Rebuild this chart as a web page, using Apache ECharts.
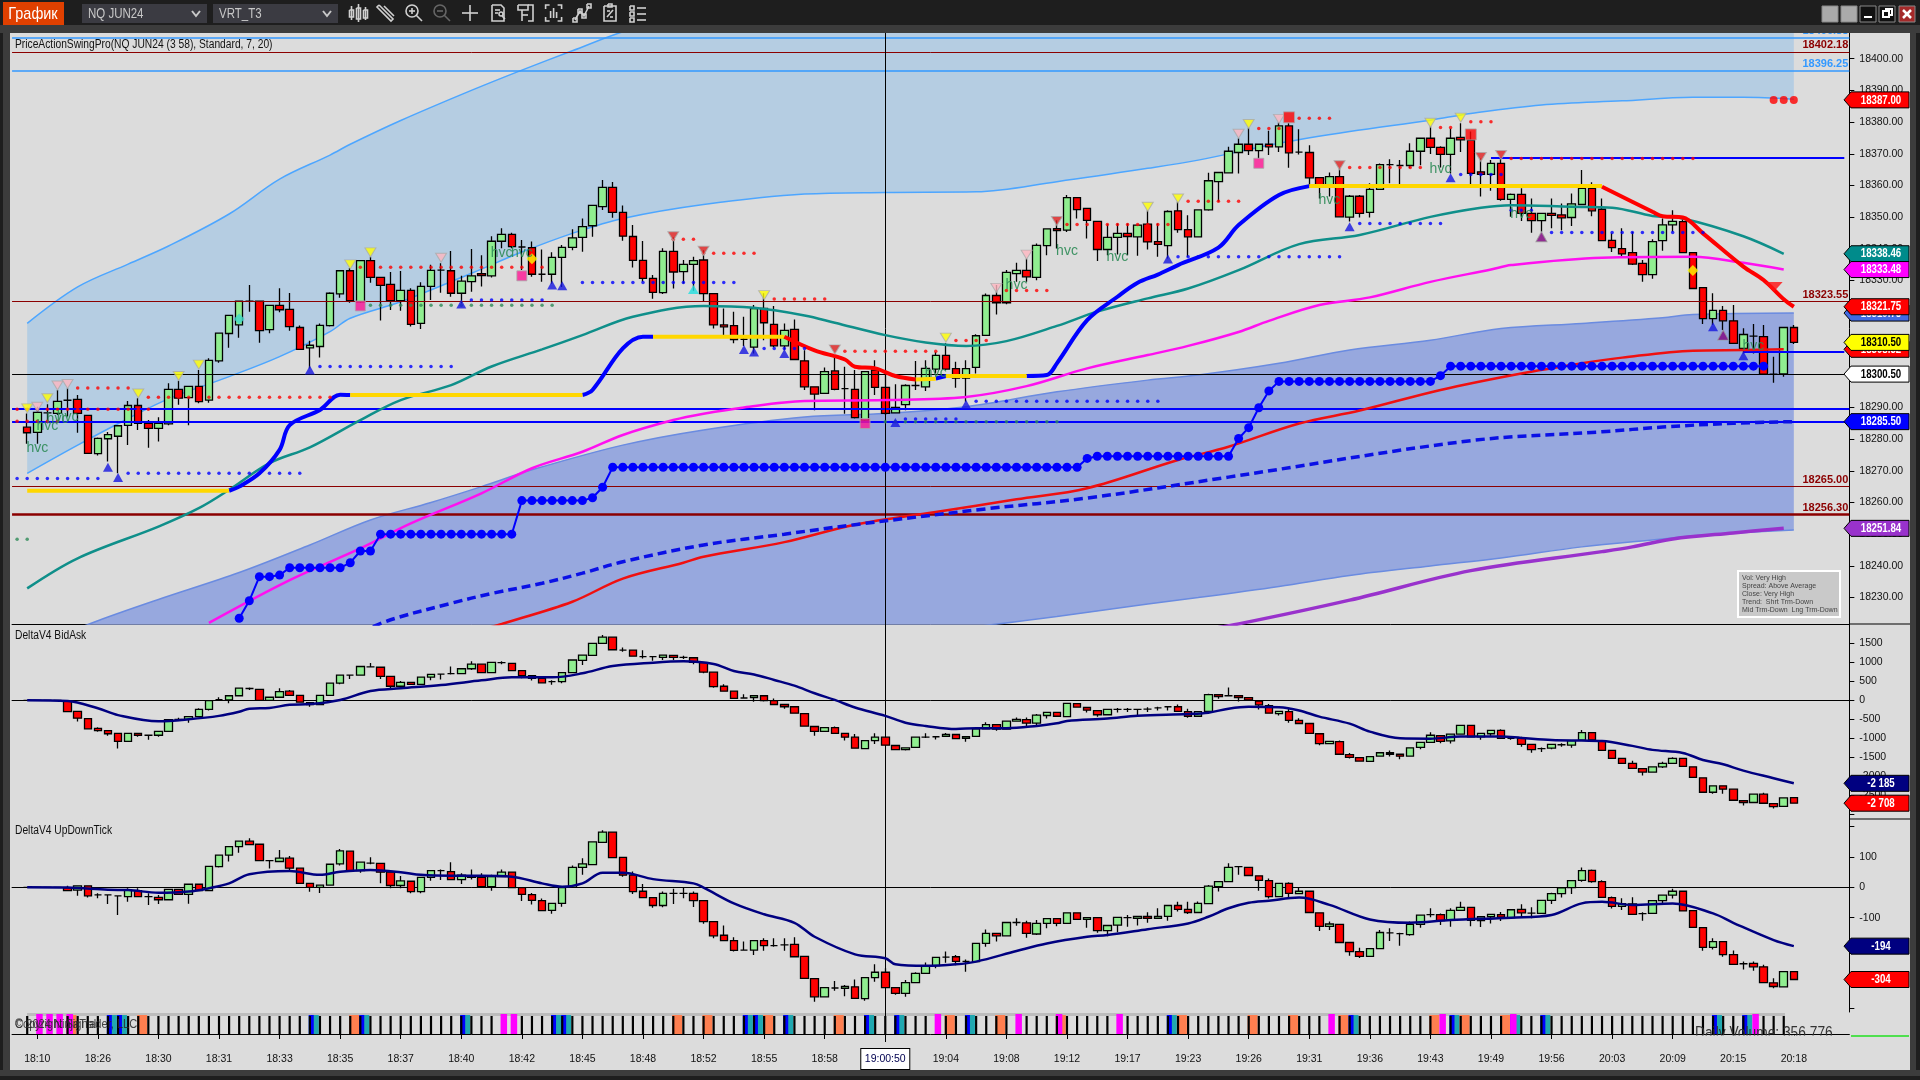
<!DOCTYPE html>
<html><head><meta charset="utf-8"><title>NQ JUN24</title>
<style>html,body{margin:0;padding:0;background:#1e1e1e}#c{width:1920px;height:1080px}</style>
<script src="https://cdn.jsdelivr.net/npm/echarts@6/dist/echarts.min.js"></script></head><body><div id="c"></div>
<script>
// rows: open, close, high, low
const priceBars=[[18283.75,18282,18288.1,18278.5],[18282.1,18288.4,18290.2,18278.5],[18288.25,18288.25,18291,18285],[18288.1,18291.9,18295.5,18287.6],[18292.25,18292.25,18296,18287.1],[18292.5,18288.1,18293.9,18282],[18287.5,18275.5,18287.5,18275.5],[18275.4,18280.2,18280.5,18274.8],[18280.1,18281.4,18282.2,18272.9],[18280.9,18284.2,18284.4,18269.2],
[18284.3,18290.6,18292,18278.1],[18290.6,18285,18292.9,18282.9],[18285,18283.4,18286,18277.3],[18283.4,18285,18286.9,18279.2],[18284.8,18295.7,18297.6,18284.4],[18295.7,18292.9,18298.4,18290.8],[18293.1,18296.6,18296.6,18284.4],[18296.6,18291.8,18301.8,18291.3],[18292.3,18304.8,18305.5,18291.5],[18304.7,18313.4,18313.4,18304.1],
[18313.3,18319,18319,18308.8],[18316,18323.5,18323.5,18312],[18323.5,18323.5,18328.6,18320.2],[18323.5,18314.2,18323.5,18310.4],[18314.5,18322.2,18322.2,18313.4],[18322.2,18320.8,18327.6,18320],[18320.9,18315.5,18326.1,18314.2],[18315.2,18308.3,18315.8,18308.3],[18308.8,18309.6,18311,18302.3],[18309.2,18315.9,18316.5,18305.7],
[18315.8,18326,18326.3,18315.5],[18325.8,18333.1,18333.1,18324.6],[18333.1,18323.7,18334,18323],[18323.3,18336.3,18336.3,18323],[18336.3,18331,18337.5,18329.3],[18331,18328.5,18331.1,18317.4],[18328.8,18323.7,18332.7,18320.7],[18323.7,18326.9,18333,18320.5],[18326.9,18316.2,18327.6,18315.5],[18316.5,18328.2,18329.5,18314.7],
[18328.2,18333.2,18335,18323.9],[18333.3,18333.3,18335.5,18326.2],[18333.1,18326,18339.3,18324.9],[18326,18329.8,18331.5,18322.8],[18329.7,18331.5,18340,18326.5],[18332.2,18331.6,18338,18328.1],[18331.5,18342.4,18344,18331],[18342.4,18344.6,18346.5,18340.2],[18344.6,18340.7,18345.1,18340.2],[18340.6,18340.6,18342.8,18333.3],
[18340.4,18332,18342.3,18331.2],[18332,18332,18339.8,18329.6],[18332,18337.3,18338.9,18329],[18337.3,18340.5,18341.2,18328],[18340.5,18343.5,18346.2,18339.6],[18343.6,18347,18349.6,18339.1],[18347.3,18353.7,18353.7,18343.8],[18353.3,18359.4,18361.7,18352.3],[18359.4,18351.5,18361.1,18349.8],[18351.5,18344,18353.7,18342.6],
[18343.9,18336.4,18347.5,18334.1],[18336.4,18330.7,18342.5,18329.6],[18330.7,18326.3,18331.8,18324.3],[18326.2,18339.2,18340.2,18325.8],[18339.2,18332.7,18343.6,18327.5],[18332.8,18335.1,18336.5,18329.1],[18335.1,18336.3,18337.5,18326.8],[18336.5,18325.9,18339.6,18323.3],[18325.9,18316,18326,18314.9],[18316,18315.4,18321.2,18312.8],
[18315.8,18311.4,18320.2,18310.2],[18311.5,18311.5,18318.6,18309.4],[18309,18321.2,18322.3,18307],[18321.2,18316.7,18326,18311.2],[18316.2,18309.4,18322,18309],[18309.4,18314.3,18316.5,18308],[18314.6,18305.1,18317.7,18304.9],[18304.7,18296.5,18308,18295.5],[18296.5,18294.2,18296.5,18289.1],[18294.4,18301.3,18302.6,18294.2],
[18301.5,18295.7,18306,18295.4],[18295.9,18295.9,18302.8,18288],[18295.7,18286.8,18301.8,18286.5],[18286,18301.3,18301.3,18285.5],[18301.8,18296.3,18304.9,18293.9],[18296.3,18288.1,18301.8,18287.6],[18288.3,18290,18297.3,18288.1],[18290.9,18296.9,18297.3,18289.1],[18296.9,18296.9,18304.6,18295.5],[18296.5,18302.3,18304.9,18295.2],
[18302.1,18306.4,18307.5,18300.7],[18306.4,18302.1,18310.2,18301.8],[18302.2,18299.2,18304.4,18296.2],[18299.2,18302.2,18304.9,18291.8],[18302.6,18312.6,18313.1,18300.7],[18312.7,18325.3,18325.9,18312.5],[18325.3,18323,18328.6,18319.3],[18323,18332.6,18333.3,18322.5],[18332.2,18333.2,18335.6,18329.6],[18333.2,18331.2,18337,18329.6],
[18331,18341.1,18341.7,18330.1],[18341,18346.3,18346.4,18338],[18346.4,18345.8,18349,18340.1],[18345.9,18356.2,18357,18345.3],[18356.2,18352.4,18356.2,18349.6],[18352.8,18349,18352.8,18343.3],[18348.7,18339.8,18348.7,18336.2],[18339.8,18343.6,18347.8,18338],[18343.6,18344.9,18348,18338.2],[18344.9,18343.9,18348,18338],
[18343.8,18347.5,18347.5,18337.8],[18347.8,18342.2,18352.2,18339.8],[18342.3,18341.4,18348,18337.5],[18341,18351.8,18352.2,18337],[18352,18346.1,18354.9,18345.1],[18346.1,18343.8,18350.6,18337.5],[18343.8,18352.3,18352.4,18343.6],[18352.3,18361.5,18364,18352],[18361.2,18364.1,18364.1,18354.9],[18364,18370.8,18372.2,18363.8],
[18370.4,18373,18374.9,18363.8],[18373,18371,18378.2,18369.6],[18371,18373,18373,18368.5],[18373,18372.2,18377.3,18369.6],[18372.2,18378.8,18379.9,18370.6],[18378.8,18370.3,18379.6,18365.6],[18370.5,18370.5,18377.7,18369.8],[18370.4,18362.4,18372.7,18359.9],[18362.5,18360.2,18362.5,18355.9],[18360.2,18362.8,18364.1,18356.5],
[18362.8,18350.1,18365.4,18349.9],[18350,18356.6,18357,18348.6],[18356.6,18351.2,18357,18349.9],[18351.5,18358.8,18360.7,18349.9],[18358.8,18366.6,18366.9,18358.6],[18366.6,18366.6,18368.3,18360.7],[18366.3,18366.3,18368,18360.1],[18366.3,18370.8,18373.3,18365.4],[18370.8,18374.9,18374.9,18366.4],[18374.9,18372,18378.7,18369.9],
[18372,18369.8,18372.4,18365.7],[18369.8,18374.9,18378,18363.8],[18375.2,18374.4,18379.6,18370.6],[18374.3,18363.8,18377,18360.1],[18364.3,18363.5,18368.5,18356.5],[18363.5,18367,18368,18358.3],[18367,18355.6,18369,18355.2],[18355.6,18357.2,18357.5,18350.1],[18357.2,18351.2,18359.1,18348.8],[18351.2,18348.9,18355.9,18345.1],
[18348.9,18351.2,18351.2,18345.4],[18351.2,18350.6,18355.9,18346.5],[18350.7,18349.8,18354.3,18345.9],[18349.9,18354.2,18357.5,18347.2],[18354,18359.1,18364.9,18353.8],[18359.1,18352,18361,18350.3],[18352.5,18342.6,18355.9,18342.4],[18342.7,18340.4,18344.9,18339],[18340.1,18338.4,18346.5,18337.5],[18338.8,18335.2,18345.4,18334.9],
[18335.4,18331.9,18336.5,18329.6],[18331.9,18342.3,18343,18330.6],[18342.6,18347.6,18349.6,18339.4],[18347.6,18348.7,18352.2,18345.4],[18348.6,18338.8,18349.6,18338.6],[18338.8,18327.5,18338.8,18327.5],[18327.8,18318,18327.8,18316.3],[18318,18320.6,18326,18316],[18320.6,18317.3,18322,18314.4],[18317.3,18310.2,18322.3,18310],
[18308.6,18313,18315,18307],[18312.5,18312.5,18316.3,18307],[18312.3,18300.5,18316,18300.5],[18300.5,18300.5,18306,18297.8],[18300.6,18315.2,18315.2,18299.7],[18315.2,18310.5,18316,18310]];
const bidAskBars=[[0,0],[0,0],[0,0],[0,0],[-20,-300,0],[-290,-470,null,-560],[-480,-750],[-740,-800,-710,-830],[-800,-880,null,-930],[-870,-1080,null,-1270],
[-1080,-870],[-870,-920,null,-960],[-920,-920,null,-1040],[-920,-820,null,-960],[-820,-510],[-500,-500,-460,-530],[-500,-430,null,-590],[-430,-240,-210],[-240,-10,null,-270],[20,20,80,-20],
[10,120,null,-80],[120,320],[310,310,340,270],[290,0],[0,80],[80,230,320],[240,130,270],[130,-50],[-60,-110,null,-170],[-110,130],
[130,450],[450,660,null,420],[660,660,660,560],[660,890],[880,880,980,860],[870,630,null,560],[630,370,null,320],[370,470,510],[470,420],[420,610],
[610,680,null,530],[690,690,690,550],[700,700,890,680],[700,830],[830,950,1030,800],[950,730],[730,1000],[990,990,1030,950],[970,780],[780,650,null,580],
[650,580,null,520],[580,460],[490,490,530,410],[490,730,null,450],[730,1060],[1050,1190,null,930],[1180,1500],[1500,1660,1720],[1660,1330],[1320,1320,1390,1280],
[1320,1160],[1150,1150,1320,1100],[1150,1150,1150,1040],[1130,1190,null,1060],[1180,1130,null,1060],[1130,1130,1170,1090],[1120,1000,null,950],[990,740,null,710],[740,360,null,330],[370,240,420],
[240,50],[60,60,160,40],[70,120,null,-40],[120,-10,null,-30],[-10,-110,50],[-110,-170,null,-220],[-170,-340,-150],[-350,-680],[-690,-820,null,-930],[-820,-720],
[-720,-870,-690],[-870,-970,null,-1060],[-970,-1260,-890],[-1270,-1060,null,-1290],[-1060,-970,-870,-1150],[-970,-1180,-950],[-1190,-1300],[-1300,-1250,null,-1320],[-1240,-970],[-970,-970,-870,-990],
[-960,-960,-960,-1030],[-950,-900,-860],[-900,-1010],[-1000,-960,null,-1090],[-950,-750],[-750,-640,-580],[-640,-760,null,-800],[-760,-550],[-550,-500,-450],[-510,-600,-450,-680],
[-600,-390,-360,-650],[-400,-320,null,-480],[-320,-420],[-430,-80],[-90,-180],[-190,-260,null,-320],[-270,-380,null,-430],[-380,-240],[-240,-240,-200,-320],[-240,-240,-200,-310],
[-240,-240,-240,-390],[-230,-230,-180,-310],[-200,-200,-170,-270],[-170,-170,-170,-270],[-170,-290,-110],[-300,-420,-220,-460],[-420,-300],[-290,150,170],[150,100,null,40],[120,120,340,100],
[120,70,null,-30],[70,10],[-20,-120,null,-240],[-140,-340,-100],[-350,-290,null,-400],[-300,-530,-210,-590],[-530,-610,-470],[-610,-870],[-880,-1140,null,-1180],[-1140,-1080],
[-1090,-1420,-1060],[-1430,-1500,-1390,-1530],[-1510,-1600],[-1610,-1480],[-1470,-1380],[-1380,-1420,-1320,-1480],[-1420,-1470,null,-1550],[-1470,-1250],[-1240,-1110,null,-1290],[-1110,-920,-840],
[-930,-1080,null,-1130],[-1070,-890,null,-1140],[-890,-660],[-660,-960],[-960,-870,null,-1040],[-880,-790,null,-940],[-790,-1000,-760],[-1000,-1000,-1000,-1040],[-1000,-1160,-960,-1220],[-1160,-1300,null,-1380],
[-1270,-1270,-1240,-1360],[-1260,-1160,null,-1290],[-1170,-1170,-1130,-1220],[-1180,-1060,null,-1250],[-1050,-850,-780],[-850,-1040],[-1060,-1320],[-1320,-1530],[-1530,-1660],[-1660,-1790,-1590],
[-1800,-1890,null,-1980],[-1890,-1750],[-1750,-1660,-1620,-1780],[-1660,-1530,-1500],[-1530,-1740],[-1750,-2030],[-2040,-2420],[-2420,-2250,null,-2460],[-2250,-2340,null,-2460],[-2340,-2630,-2320],
[-2640,-2690,null,-2770],[-2690,-2470],[-2470,-2710,-2430],[-2720,-2800,null,-2850],[-2790,-2570],[-2560,-2708]];
const upDownBars=[[0,0],[0,0],[0,0],[0,0],[-2,-11,5,-11],[-9,5,5,-28],[5,-28,null,-34],[-25,-25,-20,-36],[-25,-25,-25,-55],[-28,-28,-28,-91],
[-31,-9,-3,-48],[-11,-31,-3],[-31,-31,-20,-58],[-33,-41,-25,-55],[-41,-7,null,-43],[-7,-23,null,-25],[-23,10,null,-54],[10,-11],[-11,69],[68,106,null,65],
[106,134,136,85],[134,152,154,114],[152,141,162],[142,88],[88,88,88,62],[85,96,123,83],[96,63,103,57],[63,13],[13,0,null,-15],[0,7,null,-19],
[7,76],[77,120,126,72],[119,55],[55,83,null,48],[80,80,99,76],[79,50,null,13],[50,6,null,-3],[6,21,37,-3],[20,-14,null,-20],[-14,33,null,-20],
[33,55,null,22],[55,55,59,24],[52,25,83,24],[25,40,46,11],[38,33,59,26],[33,2,46],[2,35,41,-11],[35,50,59,33],[50,-1],[-1,-23,null,-45],
[-24,-43,-19,-57],[-44,-77,-37,-79],[-76,-53,null,-87],[-53,-1,null,-64],[0,66,72],[66,77,96,41],[75,150],[148,182,188],[182,98],[99,40,null,35],
[40,-14,52,-22],[-13,-34,11],[-34,-60,null,-67],[-60,-20,-14,-66],[-20,-20,-5,-55],[-20,-20,-1,-36],[-20,-44,-14,-65],[-44,-113,null,-120],[-113,-160,null,-168],[-158,-176,-126],
[-176,-208,-165,-212],[-207,-207,-179,-209],[-207,-176,null,-223],[-176,-192,-168,-209],[-192,-192,-168,-196],[-190,-190,-168,-209],[-188,-229,-165],[-228,-300],[-301,-361,null,-377],[-361,-331],
[-332,-332,-309,-341],[-333,-327,-322,-359],[-328,-366,-304],[-367,-298,null,-374],[-298,-280,-254,-311],[-280,-331,-267],[-331,-350,null,-354],[-350,-314,-306,-361],[-314,-284,-280],[-284,-258,-248],
[-258,-231,null,-267],[-230,-230,-212,-249],[-229,-244,-223,-257],[-244,-244,-238,-278],[-245,-185],[-185,-152,-139,-196],[-152,-160,null,-179],[-160,-116],[-116,-116,-102,-127],[-117,-152,-110,-166],
[-154,-119,-108,-157],[-119,-103,null,-135],[-103,-119,null,-128],[-119,-84],[-84,-106],[-106,-100,null,-133],[-100,-143,null,-150],[-143,-126,null,-161],[-125,-99,null,-148],[-100,-100,-91,-130],
[-102,-96,null,-126],[-96,-102,-82,-117],[-102,-96,-69],[-96,-60,null,-110],[-60,-73,-48,-80],[-73,-83,-48,-88],[-83,-53,-47],[-54,4,8,-56],[2,19,null,-14],[19,66,79],
[68,68,70,41],[66,39],[38,23,null,-11],[22,-31,29,-37],[-31,13],[13,-20,17,-36],[-21,-13,-2],[-13,-83],[-84,-129,null,-144],[-129,-121,-113,-141],
[-122,-182],[-182,-212,null,-226],[-212,-228,-199,-233],[-228,-202],[-202,-149,-141],[-150,-150,-135,-177],[-153,-153,-150,-193],[-156,-122,-113,-160],[-122,-92,null,-133],[-90,-90,-69,-99],
[-90,-110,-86,-124],[-109,-76,-69,-130],[-76,-66,-48],[-66,-109,null,-128],[-110,-97,null,-131],[-97,-89,null,-119],[-90,-98,-81,-111],[-100,-74,null,-102],[-73,-84,-56,-99],[-85,-85,-66,-102],
[-86,-43],[-43,-21,-18,-55],[-21,-2,null,-34],[-1,22,null,-22],[23,55,65,18],[56,19,59,15],[19,-33,23],[-34,-63,-30,-70],[-63,-54,-36,-75],[-55,-89,-33],
[-87,-87,-82,-110],[-86,-44],[-44,-26,null,-53],[-26,-13,-5,-37],[-13,-78,null,-80],[-77,-132],[-133,-198,null,-209],[-198,-179,-168,-205],[-179,-222,null,-229],[-222,-254,-208],
[-252,-252,-245,-271],[-251,-262,-245,-275],[-262,-314,-255],[-315,-327,-300,-333],[-328,-278,null,-330],[-278,-304]];

const timeLabels=['18:10','18:26','18:30','18:31','18:33','18:35','18:37','18:40','18:42','18:45','18:48','18:52','18:55','18:58','19:00:50','19:04','19:08','19:12','19:17','19:23','19:26','19:31','19:36','19:43','19:49','19:56','20:03','20:09','20:15','20:18'];

const band1Idx=[0,5,10,14,20,25,30,32,37,44,49,54,59,67,77,85,94,102,111,116,124,131,139,143,150,158,165,170,175];
const band1Upper=[18316.5,18328,18335.2,18340.9,18351,18362,18369.6,18373,18380.5,18390,18396.4,18402.5,18408.5,18416,18420,18423,18426,18429,18431,18433,18435,18437,18439,18440,18441,18442,18443,18444,18445];
const band1Lower=[18269.2,18278.1,18286.5,18292.7,18299.7,18306,18313.9,18318.1,18323.3,18332.3,18339,18344.9,18349.6,18354,18357.3,18357.8,18358,18361.2,18365.4,18368,18373.3,18377,18380.6,18382.7,18385.4,18386.7,18387.8,18387.8,18387.2];
const band2Idx=[0,7,13,21,28,34,40,45,50,59,67,77,85,93,102,111,116,124,131,139,146,154,162,165,175];
const band2Upper=[18214,18222.7,18229.4,18237.9,18246.6,18254.5,18260,18265,18270.3,18278.1,18282.9,18287,18288.1,18290.2,18294.9,18298.6,18300.2,18303.9,18308.1,18311.2,18314.9,18316.5,18318.3,18319.3,18319.75];
const band2Lower=[18160,18167,18172,18180,18187,18192,18197,18201,18205,18210,18213,18216,18218,18220.5,18224,18228,18230,18233.5,18237,18240,18242.5,18246,18248.5,18249.5,18251.3];

const tealAvg=[[0,18232.9],[5,18242.4],[13,18252.4],[17,18258.2],[20,18264],[24,18272.4],[28,18277.4],[33,18286],[37,18292.3],[42,18297],[46,18302.9],[51,18308.3],[55,18312.8],[60,18318.6],[67,18322],[72,18321.4],[77,18319],[80,18316.7],[85,18312.8],[89,18310.5],[93,18309.4],[97,18310.9],[102,18315.7],[106,18320.2],[111,18324.4],[115,18327.5],[120,18333.3],[126,18341.5],[132,18344.4],[139,18350.1],[144,18353],[147,18353.8],[153,18353.3],[157,18353],[161,18350.4],[164,18349.6],[170,18344],[174,18338.46]];
const magentaAvg=[[18,18222],[25.6,18235.5],[33,18245.5],[38,18253.4],[45,18262.9],[50,18270.8],[55,18276],[59,18281.3],[64,18286],[67,18288],[71,18290],[77,18292],[85,18292.3],[93,18293.3],[99,18296.7],[105,18302.3],[111,18306.5],[115,18309.4],[120,18313.8],[123,18317.3],[128,18322.3],[133,18324.7],[139,18329.6],[145,18333.5],[147,18334.9],[156,18337.2],[165,18337.5],[170,18335.6],[174,18333.48]];
const redAvg=[[40,18215],[47,18221.7],[54,18228.7],[59,18236],[65,18241],[67,18242.9],[75,18247.5],[82,18253],[90,18257],[98,18261],[105,18264.5],[114,18273.4],[119,18277.6],[126,18284.9],[132,18289],[140,18295.5],[148,18300.7],[154,18303.9],[158,18305.7],[165,18307.9],[170,18308.1],[174,18308.32]];
const blueDashed=[[33,18219],[36,18223],[41.7,18228.2],[46,18231.3],[51,18234.5],[55,18237.7],[59,18241.3],[67,18246.6],[75,18250],[82,18253],[95,18258],[105,18261.4],[119,18268],[143,18279.5],[156,18282.3],[162,18283.8],[169,18285],[175,18285.5]];
const purpleAvg=[[116,18219.5],[120,18221.7],[131,18229.2],[143,18238.5],[156,18244.5],[159,18246],[163,18248.5],[169,18250.4],[174,18251.84]];

const trailYellow=[[[0,18263.7],[20,18263.7]],[[32,18293.9],[55,18293.9]],[[62,18312.3],[75,18312.3]],[[88,18298.8],[89.5,18299]],[[91,18299.9],[99,18299.9]],[[127,18359.8],[156,18359.8]]];
const trailBlue=[[[20,18263.7],[21,18265],[23,18269.2],[25,18276.6],[26,18284.4],[28.5,18289.2],[31,18294],[32,18293.9]],[[55,18293.9],[56,18295.5],[59,18308.6],[61,18312.3],[62,18312.3]],[[89.5,18299.1],[91,18299.9]],[[99,18299.9],[100.5,18300.2],[102,18303.9],[105,18317.5],[108,18324.9],[110,18329.3],[112,18331.9],[114,18334.9],[118,18340.4],[120,18347.5],[124,18357],[127,18359.8]]];
const trailRed=[[[75,18312.3],[78,18308],[81,18305.1],[82,18302.8],[84,18302.3],[85.5,18299.9],[88,18298.8]],[[156,18359.6],[160.5,18351.7],[162,18350.3],[164,18349.9],[166,18344.9],[170,18334.4],[172,18330.2],[174,18324.1],[175,18321.75]]];

const bigDotRuns=[[21,21,18223.5],[22,22,18229],[23,24,18236.6],[25,25,18237.1],[26,31,18239.4],[32,32,18241],[33,34,18244.7],[35,48,18250],[49,55,18260.6],[56,56,18261.5],[57,57,18264.8],[58,104,18271.1],[105,105,18273.9],[106,119,18274.6],[120,120,18280.2],[121,121,18283.6],[122,122,18289.9],[123,123,18295.2],[124,139,18298.2],[140,140,18300],[141,172,18303]];
const redDotRuns=[[-1,12,18289.4],[-1,3,18285.6],[5,10,18296.1],[12,30,18293.2],[33,51,18334.2],[64,66,18343],[67,72,18338.6],[74,79,18324.2],[81,90,18307.7],[92,95,18311.1],[97,101,18326.9],[103,113,18347.7],[115,120,18355],[122,124,18378],[126,129,18381.2],[131,138,18365.7],[140,141,18378.3],[143,145,18380.1],[147,165,18368.5]];
const blueDotRuns=[[-1,7,18267.6],[10,27,18269.2],[29,42,18302.9],[44,51,18323.9],[55,70,18329.4],[73,77,18308.6],[87,92,18286.3],[94,112,18291.9],[114,130,18337.5],[132,140,18348],[142,146,18363.5],[147,149,18352.2],[151,166,18345.2]];
const greenDotRuns=[[-1,0,18248.4],[34,52,18322.2],[85,102,18285.5]];

const lowBlue=[[8,18271.1],[9,18267.9],[28,18301.8],[43,18322.6],[52,18328.6],[53,18328.4],[71,18308.3],[72,18307.5],[75,18307],[86,18285.2],[93,18291],[113,18336.8],[131,18347],[141,18362.4],[167,18315.4],[170,18306.3]];
const lowPurple=[[150,18343.8],[168,18312.8]];
const lowCyan=[[66,18327.2]];
const highYellow=[[0,18289.7],[2,18292.9],[11,18294.4],[15,18299.9],[17,18303.5],[32,18335.1],[34,18338.9],[73,18325.4],[91,18312],[111,18353.3],[114,18355.9],[121,18379.4],[139,18379.8],[142,18381.4]];
const highPink=[[1,18290.2],[3,18296.9],[4,18297.4],[41,18337.2],[96,18327.7],[99,18338.2],[120,18376.3],[124,18381]];
const highRed=[[64,18344],[67,18339.4],[80,18308.3],[102,18348.8],[130,18366.4],[144,18369],[146,18369.6]];
const bigRedDown=[[173,18328]];
const pinkSquares=[[33,18322],[49,18331.5],[83,18284.9],[122,18367]];
const redSquares=[[125,18381.5],[143,18376.1]];
const yellowDiamonds=[[50,18336.9],[165,18333.2]];
const cyanDiamonds=[[21,18317.9]];
const endDots=[[173,18387],[174,18387],[175,18387]];
const hvcMarks=[[1,18277],[2,18284.2],[3,18286.2],[4,18286.9],[47,18338.8],[48.5,18338.8],[90,18300.7],[98,18328.6],[102.5,18339.4],[108,18337.5],[129,18355.5],[140,18365],[147.5,18350.9],[171,18309.3]];

const bidAskAvg=[[0,0],[4,-20],[7,-210],[9,-390],[13,-550],[16,-500],[19,-410],[21,-300],[22,-220],[24,-200],[26,-120],[28,-100],[31,10],[34,245],[37,315],[41,400],[45,525],[48,605],[52,605],[55,710],[58,900],[62,990],[65,1025],[68,955],[70,770],[72,680],[74,535],[76,385],[78,185],[80,10],[82,-190],[85,-410],[87,-590],[89,-675],[92,-755],[94,-735],[97,-735],[100,-675],[102,-605],[103,-545],[107,-480],[110,-405],[115,-360],[117,-325],[119,-220],[121,-170],[123.7,-185],[126.2,-270],[128.3,-430],[131,-615],[133,-825],[136.4,-1000],[138.9,-1010],[142.3,-955],[145.7,-955],[148.2,-990],[150.8,-1045],[154.2,-1060],[156.3,-1070],[159,-1200],[160.5,-1305],[163.5,-1385],[166,-1570],[168,-1685],[169.8,-1850],[172.8,-2050],[175,-2185]];
const upDownAvg=[[0,0],[4,-1],[8,-8],[10,-9],[13,-18],[16,-14],[18,-3],[20,13],[22,43],[26,54],[29,41],[31,51],[34,57],[37,50],[39,41],[42,38],[45,38],[48,35],[51,13],[53,2],[55,13],[57,48],[59,48],[62,27],[65.5,13],[67,-1],[70,-53],[73,-89],[76,-117],[78.4,-163],[82,-221],[85,-234],[86,-254],[89,-259],[92,-254],[94,-245],[98,-210],[101,-185],[105,-163],[107,-157],[111,-138],[115,-119],[117,-97],[119,-69],[121,-51],[123,-44],[126,-34],[129,-58],[133,-106],[137,-117],[141,-108],[147,-100],[151,-91],[154,-53],[156,-48],[159,-58],[163,-53],[167,-86],[169,-117],[173,-174],[175,-194]];

const stripTeal=[8,9,28,33,43,52,53,71,72,75,83,86,93,113,131,141,147,150,167,170];
const stripOrange=[4,11,32,64,67,73,80,91,96,102,114,121,125,130,139,142,146];
const stripMagenta=[1,2,3,4,47,48,90,98,102,108,129,140,147,171];
const stripLast=174;

// [value, colour, width, label]
const levels=[[18406.75,'#3399ff',1.5,'18406.88'],[18402.18,'#8b0000',1,'18402.18'],[18396.25,'#3399ff',1.5,'18396.25'],[18323.55,'#8b0000',1,'18323.55'],[18300.5,'#000000',1,''],[18289.5,'#0000ff',2,''],[18285.5,'#0000ff',2,''],[18265,'#8b0000',1,'18265.00'],[18256.3,'#8b0000',2.5,'18256.30']];
const partialLevels=[[145,18368.6],[170,18307.4]];
const crossBar=85;
const pillsMain=[[18319.75,'18319.75','#4169e1','#fff'],[18308.32,'18308.32','#ff0000','#fff'],[18387,'18387.00','#ff0000','#fff'],[18338.46,'18338.46','#008b8b','#fff'],[18333.48,'18333.48','#ff00ff','#fff'],[18321.75,'18321.75','#ff0000','#fff'],[18310.5,'18310.50','#ffff00','#000'],[18300.5,'18300.50','#ffffff','#000'],[18285.5,'18285.50','#0000ff','#fff'],[18251.84,'18251.84','#9932cc','#fff']];
const pillsBidAsk=[[-2185,'-2 185','#000080','#fff'],[-2708,'-2 708','#ff0000','#fff']];
const pillsUpDown=[[-194,'-194','#000080','#fff'],[-304,'-304','#ff0000','#fff']];
const priceTicks=[18230,18240,18250,18260,18270,18280,18290,18300,18310,18320,18330,18340,18350,18360,18370,18380,18390,18400];
const bidAskTicks=[1500,1000,500,0,-500,-1000,-1500,-2000,-2500];
const upDownTicks=[100,0,-100,-200,-300];
const statLines=['Vol: Very High','Spread: Above Average','Close: Very High','Trend:  Shrt Trm-Down','Mid Trm-Down  Lng Trm-Down'];

const PAD=1, BW=10.095, CATS=182;
const F='"Liberation Sans",sans-serif';
const cats=Array.from({length:CATS},(_,i)=>'b'+i);
const gridLeft=12.06, gridWidth=BW*CATS;
const SM=0.35;
const sh=a=>a.map(p=>[p[0]+PAD,p[1]]);
const runs=r=>{const o=[];r.forEach(([s,e,v])=>{for(let i=s;i<=e;i++)o.push([i+PAD,v])});return o};
const ohlc=rows=>rows.map(r=>{const o=r[0],c=r[1],h=r[2]==null?Math.max(o,c):r[2],l=r[3]==null?Math.min(o,c):r[3];return [o,c,l,h]});
const pad=d=>{const a=[];for(let i=0;i<PAD;i++)a.push('-');return a.concat(d)};

const grids=[{top:33,height:591},{top:624,height:195},{top:819,height:193},{top:1012,height:30}].map(g=>({left:gridLeft,width:gridWidth,top:g.top,height:g.height}));
const xAxes=[0,1,2].map(i=>({type:'category',gridIndex:i,data:cats,axisLabel:{show:false},axisTick:{show:false},axisLine:{show:true,lineStyle:{color:'#000',width:1}},splitLine:{show:false}}));
const isTick=idx=>{const k=idx-PAD-1;return k>=0&&k%6===0&&k/6<timeLabels.length};
xAxes.push({type:'category',gridIndex:3,data:cats,axisLine:{show:true,lineStyle:{color:'#000',width:1}},
 axisTick:{show:true,alignWithLabel:true,length:5,interval:(idx)=>isTick(idx),lineStyle:{color:'#000'}},
 axisLabel:{show:true,interval:(idx)=>isTick(idx),margin:7,formatter:(v,idx)=>{const t=timeLabels[(idx-PAD-1)/6];return t===('19:00:50')?'{hl|'+t+'}':'{n|'+t+'}'},
  rich:{n:{height:20,lineHeight:20,fontFamily:F,fontSize:10.5,color:'#111'},hl:{height:20,lineHeight:20,width:48,align:'center',fontFamily:F,fontSize:10.5,color:'#000050',backgroundColor:'#fff',borderColor:'#000',borderWidth:1}}},splitLine:{show:false}});
const yAx=(i,min,max,labels,ticks,fmt)=>({type:'value',gridIndex:i,position:'right',min,max,scale:true,splitLine:{show:false},axisLine:{show:true,onZero:false,lineStyle:{color:'#000',width:1}},
 axisTick:{show:true,length:5,customValues:ticks,lineStyle:{color:'#000'}},axisLabel:{show:true,customValues:labels,margin:10,fontFamily:F,fontSize:10.5,color:'#111',formatter:fmt,align:'left',showMinLabel:true,showMaxLabel:true}});
const yAxes=[yAx(0,18221.67,18408.1,priceTicks,priceTicks,v=>v.toFixed(2)),
 yAx(1,-3124,2008,bidAskTicks,bidAskTicks.concat([-3000]),v=>String(v)),
 yAx(2,-411.1,225.2,upDownTicks,[200,-400].concat(upDownTicks),v=>String(v)),
 {type:'value',gridIndex:3,min:-8,max:22,show:false}];

const series=[];
let zc=2;
const add=(s,ax=0)=>{s.xAxisIndex=ax;s.yAxisIndex=ax;s.z=s.z||zc++;s.animation=false;s.silent=true;series.push(s);return s};
const stackBand=(name,idx,lo,up,lineC,fillC)=>{
 add({type:'line',name:name+' base',stack:name,symbol:'none',smooth:SM,data:idx.map((i,k)=>[i+PAD,lo[k]]),lineStyle:{color:lineC,width:1.5},z:1});
 add({type:'line',name:name+' span',stack:name,symbol:'none',smooth:SM,data:idx.map((i,k)=>[i+PAD,up[k]-lo[k]]),lineStyle:{color:lineC,width:1.5},areaStyle:{color:fillC,opacity:1},z:1});
};
stackBand('band1',band1Idx,band1Lower,band1Upper,'#4da6ff','#b5cde2');
stackBand('band2',band2Idx,band2Lower,band2Upper,'#6a8be0','#97a8de');
const candle=(name,rows,ax,w)=>add({type:'candlestick',name,data:pad(ohlc(rows)),barWidth:w,itemStyle:{color:'#90ee90',color0:'#ff0000',borderColor:'#000',borderColor0:'#000',borderColorDoji:'#000',borderWidth:1.3}},ax);
candle('NQ JUN24',priceBars,0,8);
candle('BidAsk',bidAskBars,1,8);
candle('UpDownTick',upDownBars,2,8);
// levels
const lv=levels.map(([v,c,w,t])=>({yAxis:v,lineStyle:{color:c,width:w,type:'solid'},label:{show:!!t,formatter:t,position:'insideEndTop',distance:[1,1],color:c==='#8b0000'?'#8b0000':'#3399ff',fontFamily:F,fontSize:11,fontWeight:'bold'}}));
const plv=partialLevels.map(([i,v])=>[{coord:[i+PAD,v],lineStyle:{color:'#0000ff',width:2,type:'solid'},label:{show:false}},{coord:[CATS-1,v]}]);
add({type:'line',name:'levels',symbol:'none',data:[],lineStyle:{opacity:0},markLine:{silent:true,symbol:'none',animation:false,z:3,data:lv.concat(plv)}});
// crosshair
[0,1,2,3].forEach(ax=>add({type:'line',name:'cross'+ax,symbol:'none',data:[],markLine:{silent:true,symbol:'none',animation:false,z:3,label:{show:false},data:[{xAxis:crossBar+PAD,lineStyle:{color:'#000',width:1,type:'solid'}}]}},ax));
const ln=(name,d,c,w,extra)=>add(Object.assign({type:'line',name,symbol:'none',smooth:SM,data:sh(d),lineStyle:{color:c,width:w}},extra||{}));
ln('teal',tealAvg,'#0f8f8a',2.5);
ln('magenta',magentaAvg,'#ff10f0',2.5);
ln('red',redAvg,'#f01010',2.5);
ln('purple',purpleAvg,'#9932cc',3.5);
ln('dashed',blueDashed,'#0a10e6',3.5,{lineStyle:{color:'#0a10e6',width:3.5,type:[9,5]}});
add({type:'line',name:'big dots',data:runs(bigDotRuns),symbol:'circle',symbolSize:9,showSymbol:true,showAllSymbol:true,itemStyle:{color:'#0000ff'},lineStyle:{color:'#0000ff',width:2}});
trailBlue.forEach((d,i)=>ln('trail blue '+i,d,'#0000ff',4));
trailYellow.forEach((d,i)=>ln('trail yellow '+i,d,'#ffd700',4));
trailRed.forEach((d,i)=>ln('trail red '+i,d,'#ff0000',4));
const pts=(name,d,c,size)=>add({type:'scatter',name,data:d,symbol:'circle',symbolSize:size,itemStyle:{color:c}});
pts('red dots',runs(redDotRuns),'#ff0000',3.5);
pts('blue dots',runs(blueDotRuns),'#0000ff',3.5);
pts('green dots',runs(greenDotRuns),'#2e8b57',3.5);
const mark=(name,d,sym,size,c,rot,bc)=>add({type:'scatter',name,data:sh(d),symbol:sym,symbolSize:size,symbolRotate:rot||0,itemStyle:{color:c,borderColor:bc||c,borderWidth:bc?1:0}});
mark('low blue',lowBlue,'triangle',[10,9],'#1515e0',0);
mark('low purple',lowPurple,'triangle',[11,10],'#800080',0,'#999');
mark('low cyan',lowCyan,'triangle',[11,9],'#20e0e0',0);
mark('high yellow',highYellow,'triangle',[11,9],'#ffff00',180,'#aaa');
mark('high pink',highPink,'triangle',[11,9],'#ffb6c1',180,'#aaa');
mark('high red',highRed,'triangle',[11,9],'#e02020',180,'#aaa');
mark('big red',bigRedDown,'triangle',[18,10],'#ff1010',180);
mark('pink squares',pinkSquares,'rect',10,'#ff1493',0,'#aaa');
mark('red squares',redSquares,'rect',11,'#ff0000',0,'#aaa');
mark('yellow diamonds',yellowDiamonds,'diamond',11,'#ffff00',0);
mark('cyan diamonds',cyanDiamonds,'diamond',11,'#40d8c8',0);
mark('end dots',endDots,'circle',8,'#ff0000',0);
add({type:'scatter',name:'hvc',data:sh(hvcMarks),symbol:'circle',symbolSize:1,itemStyle:{color:'transparent'},label:{show:true,position:'inside',formatter:'hvc',color:'#2e8b57',opacity:.9,fontFamily:F,fontSize:14}});
// delta averages
add({type:'line',name:'BidAsk avg',symbol:'none',smooth:SM,data:sh(bidAskAvg),lineStyle:{color:'#000080',width:2.5}},1);
add({type:'line',name:'UpDown avg',symbol:'none',smooth:SM,data:sh(upDownAvg),lineStyle:{color:'#000080',width:2.5}},2);
// signal strip
const allBars=Array.from({length:stripLast+1},(_,i)=>i);
const stripBars=(name,list,v,c,w,z)=>add({type:'bar',name,data:list.map(i=>[i+PAD,v]),barWidth:w,barGap:'-100%',itemStyle:{color:c},z},3);
stripBars('teal',stripTeal,19,'#20a8b0',10,3);
stripBars('orange',stripOrange,19,'#ff7f50',10,3);
stripBars('blue',stripTeal,19,'#0000ff',5,4);
stripBars('magenta',stripMagenta,20,'#ff00ff',6.5,5);
stripBars('ticks',allBars.filter(i=>!stripMagenta.includes(i)||stripOrange.includes(i)),18,'#000',2.2,6);
// price pills
const pill=(name,arr,ax)=>add({type:'custom',name,coordinateSystem:'cartesian2d',z:30,clip:false,data:arr.map(a=>[CATS-1,a[0]]),
 renderItem:(p,api)=>{const a=arr[p.dataIndex],y=api.coord([CATS-1,a[0]])[1];
  return {type:'group',children:[{type:'polygon',shape:{points:[[1844,y],[1851,y-8],[1909,y-8],[1909,y+8],[1851,y+8]]},style:{fill:a[2],stroke:'#000',lineWidth:1}},
   {type:'text',x:1881,y:y,scaleX:.72,style:{text:a[1],fill:a[3],align:'center',verticalAlign:'middle',font:'bold 13.5px '+F}}]}}},ax);
pill('pills',pillsMain,0);pill('pills2',pillsBidAsk,1);pill('pills3',pillsUpDown,2);

// window chrome
const gr=[];
const R=(x,y,w,h,c,z)=>gr.push({type:'rect',shape:{x,y,width:w,height:h},style:{fill:c},z:z||100,silent:true});
const T=(x,y,t,f,c,z,al,sx)=>gr.push({type:'text',x,y,scaleX:sx||1,style:{text:t,font:f,fill:c,align:al||'left',verticalAlign:'middle'},z:z||101,silent:true});
const L=(x1,y1,x2,y2,c,w,z)=>gr.push({type:'line',shape:{x1,y1,x2,y2},style:{stroke:c,lineWidth:w||1},z:z||60,silent:true});
R(27,1013,1758,3,'#bdbdbd',1);
L(1850,624,1910,624,'#000');L(1850,819,1910,819,'#000');
L(1851,1036,1909,1036,'#20e020',1.5);
T(15,44.5,'PriceActionSwingPro(NQ JUN24 (3 58), Standard, 7, 20)','12.5px '+F,'#111',60,'left',.82);
T(15,636,'DeltaV4 BidAsk','12.5px '+F,'#111',60,'left',.82);
T(15,831,'DeltaV4 UpDownTick','12.5px '+F,'#111',60,'left',.82);
T(15,1024,'© 2024 NinjaTrader, LLC','13.5px '+F,'rgba(40,40,40,.85)',60,'left',.82);
T(15,1024,'Copyright Signal','13.5px '+F,'rgba(40,40,40,.85)',60,'left',.82);
T(1695,1034,'Daily Volume: 356 776','16px '+F,'#333',60,'left',.86);
R(1690,1035.5,158,6,'#dcdcdc',61);
R(1738,571,102,46,'#c9c9c9',60);
gr.push({type:'rect',shape:{x:1738,y:571,width:102,height:46},style:{fill:'none',stroke:'#fff',lineWidth:2},z:60,silent:true});
statLines.forEach((t,i)=>T(1742,578.5+i*8,t,'7px '+F,'#444',61));
R(0,0,1920,33,'#3c3c3c');R(0,0,1920,25,'#1e1e1e');
R(0,33,10,1047,'#3c3c3c');R(0,33,3,1047,'#1e1e1e');R(1910,33,10,1047,'#3c3c3c');R(1916,33,4,1047,'#1e1e1e');R(0,1070,1920,10,'#3c3c3c');R(0,1076,1920,4,'#1e1e1e');
R(3,2,61,23,'#e04000');
T(33,14,'График','17px '+F,'#fff',102,'center',.85);
R(82,4,125,19,'#3b3b42',101);R(213,4,125,19,'#3b3b42',101);
T(88,14,'NQ JUN24','14px '+F,'#c8c8c8',102,'left',.82);T(219,14,'VRT_T3','14px '+F,'#c8c8c8',102,'left',.82);
[196,327].forEach(x=>gr.push({type:'polyline',shape:{points:[[x-4,11],[x,16],[x+4,11]]},style:{stroke:'#c8c8c8',lineWidth:2,fill:'none'},z:102,silent:true}));
// toolbar glyphs: polylines and rings in a 20x20 box
const icons=[[358.5,[[[3,3],[3,17]],[[1,7],[5,7],[5,14],[1,14],[1,7]],[[10,1],[10,19]],[[8,5],[12,5],[12,16],[8,16],[8,5]],[[17,4],[17,17]],[[15,7],[19,7],[19,15],[15,15],[15,7]]],null],
[386,[[[3,2],[17,16],[15,18],[1,4],[3,2]],[[8,3],[18,13]]],null],
[414,[[[8,5],[8,11]],[[5,8],[11,8]],[[12,12],[18,18]]],[8,8,6]],
[442,[[[5,8],[11,8]],[[12,12],[18,18]]],[8,8,6]],
[470,[[[10,2],[10,18]],[[2,10],[18,10]]],null],
[498,[[[4,2],[13,2],[16,5],[16,18],[4,18],[4,2]],[[7,7],[12,7]],[[7,10],[10,10]],[[14,13],[17,16]]],[13,11,2]],
[526,[[[2,2],[12,2],[12,7],[2,7],[2,2]],[[12,2],[17,2],[17,18],[12,18]],[[6,7],[6,18]],[[6,12],[12,12]]],null],
[553.6,[[[2,6],[2,2],[6,2]],[[14,2],[18,2],[18,6]],[[2,14],[2,18],[6,18]],[[18,14],[18,18],[14,18]],[[7,15],[7,8]],[[10,15],[10,5]],[[13,15],[13,9]]],null],
[582,[[[3,17],[8,8],[12,13],[17,3]],[[1,15],[5,15],[5,19],[1,19],[1,15]],[[6,6],[10,6],[10,10],[6,10],[6,6]],[[10,11],[14,11],[14,15],[10,15],[10,11]],[[15,1],[19,1],[19,5],[15,5],[15,1]]],null],
[610,[[[4,3],[16,3],[16,18],[4,18],[4,3]],[[8,1],[12,1],[12,4],[8,4],[8,1]],[[7,14],[13,7]],[[7,8],[10,8]],[[10,14],[13,14]]],null],
[638,[[[2,3],[6,3],[6,7],[2,7],[2,3]],[[2,9],[6,9],[6,13],[2,13],[2,9]],[[2,15],[6,15],[6,19],[2,19],[2,15]],[[9,5],[18,5]],[[9,11],[18,11]],[[9,17],[18,17]]],null]];
icons.forEach(([x,lines,ring],i)=>{const c=i===3?'#666':'#d0d0d0',ox=x-10,oy=3;
 lines.forEach(l=>gr.push({type:'polyline',shape:{points:l.map(p=>[p[0]+ox,p[1]+oy])},style:{fill:'none',stroke:c,lineWidth:1.6},z:102,silent:true}));
 if(ring)gr.push({type:'circle',shape:{cx:ring[0]+ox,cy:ring[1]+oy,r:ring[2]},style:{fill:'none',stroke:c,lineWidth:1.6},z:102,silent:true});});
[[1822,'#aaa'],[1841,'#aaa'],[1860,'#111'],[1879,'#111'],[1899,'#a52a2a']].forEach(([x,c])=>gr.push({type:'rect',shape:{x,y:6,width:16,height:16},style:{fill:c,stroke:'#888',lineWidth:1},z:102,silent:true}));
R(1864,16,8,2,'#fff',103);
gr.push({type:'rect',shape:{x:1883,y:11,width:6,height:6},style:{fill:'none',stroke:'#fff',lineWidth:2},z:103,silent:true});
gr.push({type:'polyline',shape:{points:[[1886,11],[1886,9],[1892,9],[1892,15],[1889,15]]},style:{fill:'none',stroke:'#fff',lineWidth:2},z:103,silent:true});
L(1903,10,1911,18,'#fff',2.5,103);L(1911,10,1903,18,'#fff',2.5,103);

const chart=echarts.init(document.getElementById('c'),null,{renderer:'canvas',width:1920,height:1080});
chart.setOption({animation:false,backgroundColor:'#dcdcdc',grid:grids,xAxis:xAxes,yAxis:yAxes,tooltip:{show:false},legend:{show:false},series,graphic:{elements:gr}});
</script></body></html>
